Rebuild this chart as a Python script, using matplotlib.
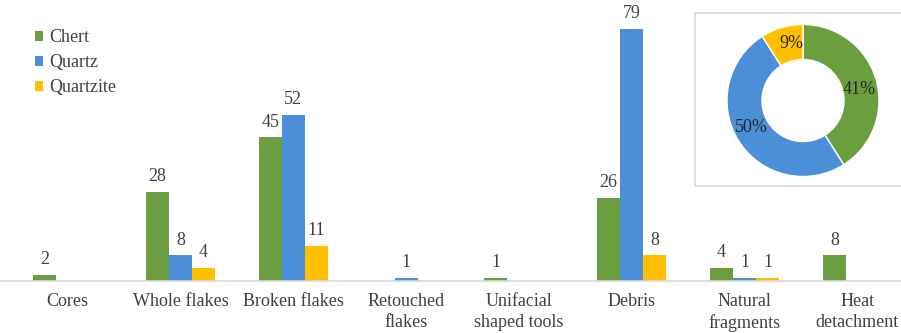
import numpy as np
import matplotlib
matplotlib.use("Agg")
import matplotlib.pyplot as plt
from matplotlib.patches import Rectangle

# ========== DATA ==========
categories = ["Cores", "Whole flakes", "Broken flakes", "Retouched\nflakes",
              "Unifacial\nshaped tools", "Debris", "Natural\nfragments", "Heat\ndetachment"]
chert = [2, 28, 45, 0, 1, 26, 4, 8]
quartz = [0, 8, 52, 1, 0, 79, 1, 0]
quartzite = [0, 4, 11, 0, 0, 8, 1, 0]
series_names = ["Chert", "Quartz", "Quartzite"]
share_pct = [41, 50, 9]

# ========== STYLE ==========
COLORS = ["#6A9E3F", "#4A8FD8", "#FFC000"]
plt.rcParams['font.family'] = ['Liberation Serif', 'DejaVu Serif']
FS = 13
W, H = 901, 333

fig = plt.figure(figsize=(W / 100, H / 100), dpi=100)

# ========== BAR CHART ==========
ax = fig.add_axes([0, 1 - 281 / H, 1, 281 / H])
x = np.arange(len(categories))
bw = 0.204
for k, vals in enumerate([chert, quartz, quartzite]):
    xs = x + (k - 1) * bw
    ax.bar(xs, vals, width=bw, color=COLORS[k], label=series_names[k])
    for xi, v in zip(xs, vals):
        if v > 0:
            ax.annotate(str(v), (xi, v), xytext=(0, 5), textcoords="offset points",
                        ha="center", va="bottom", fontsize=FS, color="#404040")

ax.set_xlim(-0.6, 7.387)
ax.set_ylim(0, 88.1)
ax.set_xticks(x)
ax.set_xticklabels(categories, fontsize=FS, color="#404040", linespacing=1.25)
ax.tick_params(axis="x", length=0, pad=9)
ax.set_yticks([])
for s in ["top", "right", "left"]:
    ax.spines[s].set_visible(False)
ax.spines["bottom"].set_color("#D9D9D9")
ax.spines["bottom"].set_linewidth(1.2)
ax.patch.set_alpha(0)

ax.legend(loc="upper left", bbox_to_anchor=(28 / W, 1 - 22 / H),
          bbox_transform=fig.transFigure, frameon=False, fontsize=FS,
          handlelength=0.45, handleheight=0.45, handletextpad=0.35,
          labelspacing=0.45, borderaxespad=0, labelcolor="#404040")

# ========== INSET DONUT ==========
box = Rectangle((695 / W, 1 - 186 / H), (W + 5 - 695) / W, (186 - 13) / H,
                transform=fig.transFigure, fill=False, edgecolor="#D9D9D9",
                linewidth=1.2)
fig.patches.append(box)

cx, cy, r = 803, 100.5, 76
pax = fig.add_axes([(cx - r) / W, 1 - (cy + r) / H, 2 * r / W, 2 * r / H])
wedges, texts = pax.pie(share_pct, colors=COLORS, startangle=90, counterclock=False,
                        radius=1, wedgeprops=dict(width=0.46, edgecolor="white", linewidth=1))
for w, p in zip(wedges, share_pct):
    # labels sit a little clockwise of the wedge middle, as in the original
    ang = np.deg2rad((w.theta1 + w.theta2) / 2 - 5)
    rr = 0.76
    pax.text(rr * np.cos(ang), rr * np.sin(ang), f"{p}%", ha="center", va="center",
             fontsize=FS, color="#262626")
pax.set_xlim(-1, 1)
pax.set_ylim(-1, 1)
pax.set_aspect("equal")
pax.axis("off")

fig.savefig("out.png", dpi=100)
